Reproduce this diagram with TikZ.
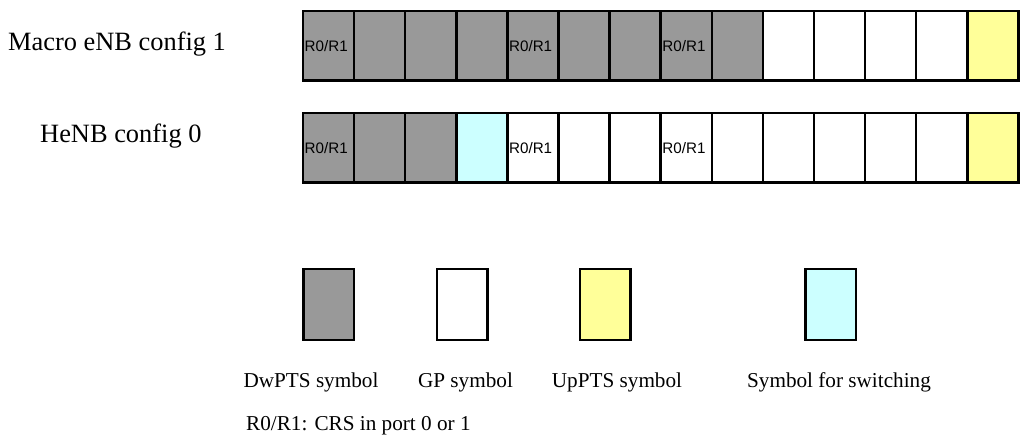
\documentclass[tikz,border=0pt]{standalone}
\usepackage{fontspec}
\setmainfont{Liberation Serif}
\newfontfamily\arialfont{Liberation Sans}
\usetikzlibrary{positioning}
\definecolor{dwgrau}{RGB}{153,153,153}
\definecolor{upgelb}{RGB}{255,255,153}
\definecolor{swcyan}{RGB}{204,255,255}
\tikzset{
  zelle/.style={draw,line width=2.5pt,minimum width=51.1pt,minimum height=69.5pt,
    inner sep=0pt,outer sep=0pt,anchor=north west},
  legbox/.style={draw,line width=2.5pt,minimum width=50.5pt,minimum height=70.5pt,
    inner sep=0pt,outer sep=0pt},
  crs/.style={inner sep=0pt,font=\arialfont\fontsize{15.2}{17}\selectfont},
  zeilentext/.style={inner sep=0pt,anchor=base west,font=\fontsize{26.4}{30}\selectfont},
  legtext/.style={inner sep=0pt,anchor=base,font=\fontsize{21.2}{24}\selectfont}
}
\begin{document}
\begin{tikzpicture}[x=1pt,y=-1pt]
    \useasboundingbox (0,0) rectangle (1020,438);
    \def\breite{51.1}
    % Macro eNB
    \node[zeilentext] (mtext) at (8,51) {Macro eNB config 1};
    \foreach \farbe [count=\i from 0] in {dwgrau,dwgrau,dwgrau,dwgrau,dwgrau,dwgrau,dwgrau,dwgrau,dwgrau,white,white,white,white,upgelb}{
      \node[zelle,fill=\farbe] (m\i) at ({303+\i*\breite},11.25) {};
    }
    \foreach \i in {0,4,7}{
      \node[crs,right=1.5pt of m\i.west] (mr\i) {R0/R1};
    }
    % HeNB
    \node[zeilentext] (htext) at (40,143) {HeNB config 0};
    \foreach \farbe [count=\i from 0] in {dwgrau,dwgrau,dwgrau,swcyan,white,white,white,white,white,white,white,white,white,upgelb}{
      \node[zelle,fill=\farbe] (h\i) at ({303+\i*\breite},113.25) {};
    }
    \foreach \i in {0,4,7}{
      \node[crs,right=1.5pt of h\i.west] (hr\i) {R0/R1};
    }
    % Legende
    \node[legbox,fill=dwgrau] (dw) at (328.5,304.5) {};
    \node[legbox,fill=white] (gp) at (462,304.5) {};
    \node[legbox,fill=upgelb] (up) at (605,304.5) {};
    \node[legbox,fill=swcyan] (sw) at (830.5,304.5) {};
    \node[legtext] (dwl) at (311,387) {DwPTS symbol};
    \node[legtext] (gpl) at (465.5,387) {GP symbol};
    \node[legtext] (upl) at (617,387) {UpPTS symbol};
    \node[legtext] (swl) at (839,387) {Symbol for switching};
    \node[legtext,anchor=base west] (crsl) at (246,430.5) {R0/R1: CRS in port 0 or 1};
  \end{tikzpicture}
\end{document}
